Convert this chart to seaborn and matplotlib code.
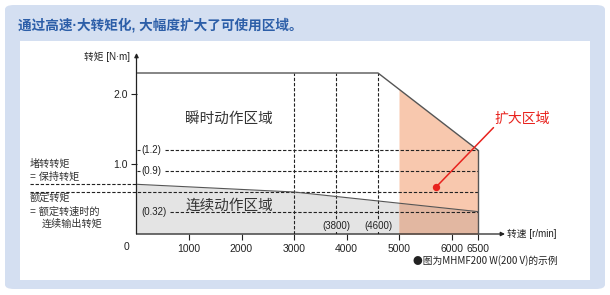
import numpy as np
import matplotlib
matplotlib.use("Agg")
import matplotlib.pyplot as plt
from matplotlib.patches import FancyBboxPatch, Rectangle
import seaborn as sns

# data (speed in r/min, torque in N·m)
peak_speed = [0, 4600, 6500]
peak_torque = [2.3, 2.3, 1.2]
cont_speed = [0, 3000, 6500]
cont_torque = [0.71, 0.6, 0.32]
stall_torque = 0.71
rated_torque = 0.6
old_max_speed = 5000
max_speed = 6500
ref_speeds = [3000, 3800, 4600]
ref_speed_labels = ['(3800)', '(4600)']
ref_torques = [1.2, 0.9, 0.32]
ref_torque_labels = ['(1.2)', '(0.9)', '(0.32)']
x_ticks = [1000, 2000, 3000, 4000, 5000, 6000, 6500]
y_ticks = [1.0, 2.0]

sns.set_style('white')
plt.rcParams['font.family'] = ['Liberation Sans', 'Noto Sans CJK SC', 'DejaVu Sans']

W, H = 610, 295
fig = plt.figure(figsize=(W / 100, H / 100), dpi=100)


def fx(px):
    return px / W


def fy(py):
    return 1 - py / H


# background panel
fig.patches.append(FancyBboxPatch((fx(5), fy(289)), fx(600), (284) / H,
                                  boxstyle='round,pad=0,rounding_size=0.015',
                                  transform=fig.transFigure, facecolor='#d4dff1',
                                  edgecolor='none', zorder=-3))
fig.patches.append(Rectangle((fx(20), fy(280)), fx(570), 239 / H,
                             transform=fig.transFigure, facecolor='white',
                             edgecolor='none', zorder=-2))
fig.text(fx(18), fy(25), '通过高速·大转矩化, 大幅度扩大了可使用区域。', fontsize=9.8,
         fontweight='bold', color='#2c5ea8', va='center', ha='left')

# axes: x=0 at px 136.5, 0.0525 px per r/min; y=0 at px 234, 70 px per N·m
x0, y0, sx, sy = 136.5, 234, 0.0525, 70
x_right, y_top = 505, 53
ax = fig.add_axes([fx(x0), fy(y0), (x_right - x0) / W, (y0 - y_top) / H])
ax.set_zorder(2)
ax.set_xlim(0, (x_right - x0) / sx)
ax.set_ylim(0, (y0 - y_top) / sy)
ax.patch.set_alpha(0)
for s in ax.spines.values():
    s.set_visible(False)

line_c = '#555555'
grey = '#e4e4e4'
orange = '#f8c8ae'
overlap = '#e2b7a1'

# continuous area
ax.fill_between(cont_speed, cont_torque, 0, color=grey, lw=0, zorder=1)
# expanded area
xs = np.linspace(old_max_speed, max_speed, 50)
ax.fill_between(xs, np.interp(xs, peak_speed, peak_torque), 0, color=orange, lw=0, zorder=1)
ax.fill_between(xs, np.interp(xs, cont_speed, cont_torque), 0, color=overlap, lw=0, zorder=1.5)

# outlines
sns.lineplot(x=peak_speed, y=peak_torque, ax=ax, color=line_c, lw=1.0,
             estimator=None, sort=False, zorder=4)
ax.plot([max_speed, max_speed], [peak_torque[-1], 0], color=line_c, lw=1.0, zorder=4)
sns.lineplot(x=cont_speed, y=cont_torque, ax=ax, color=line_c, lw=0.8,
             estimator=None, sort=False, zorder=4)

dash = dict(color='#222222', lw=0.8, ls=(0, (3, 1.6)), zorder=3)
for s in ref_speeds:
    ax.plot([s, s], [0, peak_torque[0]], **dash)
starts = [540, 540, 640]
for t, st in zip(ref_torques, starts):
    ax.plot([st, max_speed], [t, t], **dash)
left_px = 30
xl = (left_px - x0) / sx
ax.plot([xl, max_speed], [rated_torque, rated_torque], clip_on=False, **dash)
ax.plot([xl, 0], [stall_torque, stall_torque], clip_on=False, **dash)

# inner labels
for t, lab in zip(ref_torques, ref_torque_labels):
    ax.text(90, t, lab, fontsize=7, va='center', ha='left', color='#222222')
for s, lab in zip(ref_speeds[1:], ref_speed_labels):
    ax.text(s, 0.11, lab, fontsize=7, va='center', ha='center', color='#222222',
            zorder=5, bbox=dict(facecolor=grey, edgecolor='none', pad=0.6))

ax.text(1762, 1.64, '瞬时动作区域', fontsize=10.5, ha='center', va='center', color='#333333')
ax.text(1762, 0.41, '连续动作区域', fontsize=10.5, ha='center', va='center', color='#333333', zorder=5)

red = '#e8231e'
dot = (5705, 0.67)
ax.scatter([dot[0]], [dot[1]], s=28, color=red, zorder=6, linewidths=0)
ax.plot([dot[0], 6800], [dot[1], 1.52], color=red, lw=1.1, zorder=6, clip_on=False)
ax.text(7343, 1.64, '扩大区域', fontsize=10, ha='center', va='center', color=red)

# ticks
ax.set_xticks(x_ticks)
ax.set_xticklabels([str(v) for v in x_ticks])
ax.set_yticks(y_ticks)
ax.set_yticklabels(['%.1f' % v for v in y_ticks])
ax.set_yticks(ref_torques, minor=True)
ax.tick_params(axis='both', which='major', labelsize=7.5, colors='#222222',
               length=4, width=0.8, direction='out', pad=2)
ax.tick_params(axis='y', which='minor', length=2.5, width=0.8, direction='in', left=True)
ax.tick_params(axis='x', bottom=True, pad=3)
ax.tick_params(axis='y', left=True)
ax.text(-190, -0.18, '0', fontsize=7.5, ha='center', va='center', color='#222222')

# axis arrows
arr = dict(arrowstyle='-|>', lw=0.9, color='#222222', mutation_scale=6, shrinkA=0, shrinkB=0)
ax.annotate('', xy=(0, 1), xytext=(0, 0), xycoords='axes fraction', arrowprops=arr)
ax.annotate('', xy=(1, 0), xytext=(0, 0), xycoords='axes fraction', arrowprops=arr)

fig.text(fx(130), fy(57), '转矩 [N·m]', fontsize=7, ha='right', va='center', color='#222222')
fig.text(fx(507), fy(234), '转速 [r/min]', fontsize=7, ha='left', va='center', color='#222222')

# left notes
note = dict(fontsize=7.3, ha='left', va='center', color='#333333')
fig.text(fx(30), fy(164), '堵转转矩', **note)
fig.text(fx(30), fy(177), '= 保持转矩', **note)
fig.text(fx(30), fy(199), '额定转矩', **note)
fig.text(fx(30), fy(212), '= 额定转速时的', **note)
fig.text(fx(42), fy(224), '连续输出转矩', **note)

fig.text(fx(413), fy(261), '●图为MHMF200 W(200 V)的示例', fontsize=7, ha='left',
         va='center', color='#222222', family=['Noto Sans CJK SC', 'DejaVu Sans'])

fig.savefig('out.png', dpi=100)
